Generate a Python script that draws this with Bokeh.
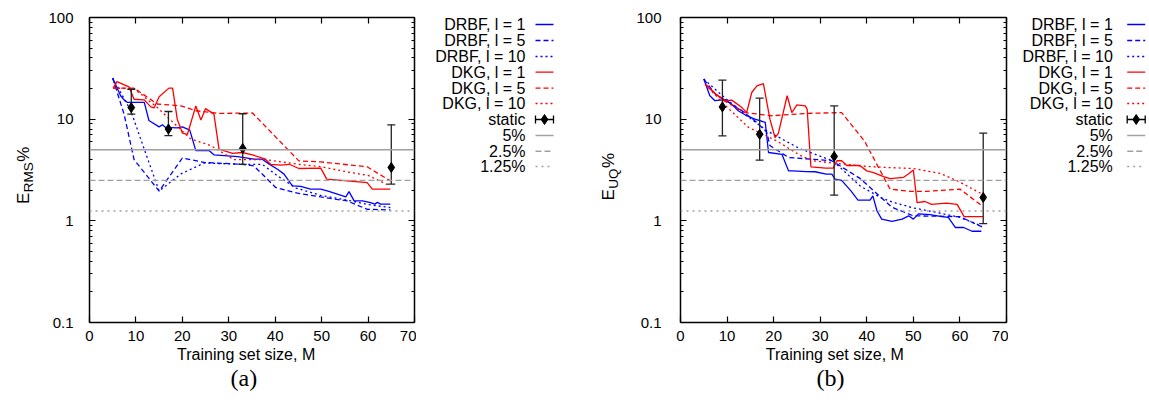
import math
from bokeh.plotting import figure
from bokeh.layouts import row
from bokeh.models import (Range1d, FixedTicker, LinearAxis, LogAxis, Span, Title,
                          CustomJSTickFormatter)
from bokeh.core.properties import value
from bokeh.embed import file_html
from bokeh.resources import INLINE

# ---------------- data ----------------
X_TICKS = [0, 10, 20, 30, 40, 50, 60, 70]
Y_TICKS = [0.1, 1, 10, 100]
Y_MINOR = [m * d for d in (0.1, 1, 10) for m in range(2, 10)]
THRESHOLDS = [5, 2.5, 1.25]
THRESHOLD_LABELS = ["5%", "2.5%", "1.25%"]
SERIES_LABELS = ["DRBF, l = 1", "DRBF, l = 5", "DRBF, l = 10",
                 "DKG, l = 1", "DKG, l = 5", "DKG, l = 10"]

# panel (a): E_RMS %
A_DRBF1_M = [5, 6.7, 7.5, 8.2, 11.8, 12.8, 15.0, 15.7, 16.4, 18.9, 20.0, 21.6, 22.9, 25.8, 26.8,
             31.9, 35.4, 37.2, 38.7, 40.5, 41.9, 43.7, 45.5, 47.6, 49.8, 51.2, 53.4, 55.2, 55.9,
             57.0, 58.8, 60.5, 61.5, 62.0, 62.7, 64.8]
A_DRBF1_E = [25.3, 17.0, 15.4, 14.6, 14.6, 9.7, 8.4, 8.8, 8.3, 8.2, 8.4, 7.8, 4.9, 4.9, 4.46,
             4.29, 4.04, 4.04, 3.61, 3.22, 2.88, 2.21, 2.18, 2.05, 2.05, 1.97, 1.83, 1.72, 1.94,
             1.57, 1.57, 1.51, 1.46, 1.52, 1.46, 1.46]
A_DRBF5_M = [5, 7.45, 9.6, 15.0, 20.0, 24.7, 32.9, 35.4, 40.1, 44.8, 49.8, 55.5, 59.8, 64.8]
A_DRBF5_E = [25.3, 11.2, 4.0, 1.96, 4.15, 3.75, 3.6, 3.47, 2.13, 1.87, 1.72, 1.57, 1.30, 1.28]
A_DRBF10_M = [5, 8.9, 11.4, 15.0, 19.7, 24.7, 32.9, 37.2, 40.5, 44.5, 49.8, 55.5, 59.8, 64.8]
A_DRBF10_E = [25.3, 12.1, 5.7, 1.96, 2.9, 3.7, 3.6, 3.6, 2.77, 2.1, 1.78, 1.6, 1.45, 1.35]
A_DKG1_M = [5.1, 5.9, 8.5, 9.6, 11.8, 13.2, 13.9, 15.0, 17.1, 17.9, 18.9, 20.0, 21.1, 22.9, 24.0,
            25.0, 26.8, 27.9, 30.8, 32.9, 35.1, 37.9, 39.0, 41.2, 43.0, 45.1, 49.8, 51.1, 55.5,
            59.8, 60.9, 64.8]
A_DKG1_E = [20.2, 23.4, 20.8, 15.7, 15.5, 13.2, 12.9, 16.6, 20.2, 20.2, 10.0, 7.3, 7.1, 13.5, 9.8,
            12.7, 11.2, 5.07, 4.6, 4.7, 4.46, 4.04, 3.6, 3.53, 3.6, 3.27, 3.3, 2.57, 2.47,
            2.38, 2.05, 2.05]
A_DKG5_M = [5.1, 9.6, 14.6, 19.7, 22.9, 27.9, 35.1, 45.1, 49.8, 59.8, 64.8]
A_DKG5_E = [20.2, 20.2, 14.1, 13.5, 12.1, 11.4, 11.5, 3.89, 3.8, 3.4, 2.47]
A_DKG10_M = [5.1, 9.6, 14.6, 21.8, 26.1, 31.1, 37.9, 45.0, 50.0, 56.0, 60.0, 64.8]
A_DKG10_E = [20.2, 20.0, 13.0, 6.4, 5.5, 4.0, 4.0, 3.6, 3.4, 3.0, 2.8, 2.2]
A_STATIC_M = [9, 17, 33, 65]
A_STATIC_E = [13.0, 8.0, 5.15, 3.35]
A_STATIC_LO = [11.2, 6.9, 3.6, 2.3]
A_STATIC_HI = [19.7, 11.9, 11.3, 8.8]

# panel (b): E_UQ %
B_DRBF1_M = [5, 6.3, 7.4, 9.6, 11.3, 12.4, 14.2, 16.0, 18.2, 18.9, 21.8, 23.2, 24.1, 27.0, 28.9,
             31.3, 32.5, 33.2, 34.6, 36.6, 38.1, 40.7, 41.3, 42.2, 43.2, 45.4, 47.6, 49.0, 50.0,
             51.1, 53.6, 56.1, 57.5, 59.0, 60.8, 62.6, 64.6]
B_DRBF1_E = [24.8, 17.0, 15.2, 15.6, 13.6, 12.1, 10.8, 10.0, 9.3, 4.7, 4.5, 3.1, 3.1, 3.05, 3.04,
             2.88, 2.88, 2.57, 2.5, 1.97, 1.6, 1.6, 1.76, 1.25, 1.04, 0.99, 1.04, 1.12, 1.04,
             1.17, 1.15, 1.1, 1.08, 0.86, 0.86, 0.79, 0.79]
B_DRBF5_M = [5, 7.5, 10, 13, 16, 18.5, 19.2, 23.2, 32.5, 38.6, 45.4, 50.0, 60.0, 65.0]
B_DRBF5_E = [24.8, 17.5, 15.0, 12.3, 9.6, 7.5, 5.5, 4.2, 3.9, 2.6, 1.36, 1.12, 1.10, 0.86]
B_DRBF10_M = [5, 9, 13, 18.5, 25.7, 32.7, 38.6, 42.9, 45.7, 50.0, 55.0, 60.0, 64.7]
B_DRBF10_E = [24.8, 17.0, 12.0, 7.7, 5.1, 3.9, 2.2, 1.70, 1.52, 1.34, 1.21, 1.08, 0.89]
B_DKG1_M = [5.3, 7.0, 9.6, 11.0, 13.2, 14.2, 15.3, 16.4, 17.8, 19.2, 20.3, 21.0, 22.9, 23.9, 25.0,
            26.8, 27.2, 28.0, 31.2, 32.8, 33.6, 34.6, 35.7, 38.5, 40.0, 41.3, 43.6, 45.0, 47.9,
            49.0, 50.0, 50.8, 52.5, 53.9, 57.1, 59.4, 60.9, 65.0]
B_DKG1_E = [22.1, 18.5, 15.2, 15.4, 13.0, 11.6, 18.3, 21.3, 22.4, 10.0, 6.6, 7.2, 17.0, 11.6, 13.8,
            13.5, 12.5, 3.4, 3.3, 3.3, 3.9, 3.9, 3.5, 3.5, 3.1, 3.0, 2.72, 2.6, 2.68,
            2.9, 3.16, 1.51, 1.55, 1.45, 1.49, 1.45, 1.1, 1.1]
B_DKG5_M = [5.3, 9.0, 13.9, 19.6, 27.1, 34.6, 39.5, 45.0, 49.3, 52.9, 60.0, 64.7]
B_DKG5_E = [22.1, 15.5, 11.6, 10.8, 11.4, 11.6, 6.1, 2.05, 1.95, 1.95, 2.05, 1.41]
B_DKG10_M = [5.3, 9.0, 14.6, 20.7, 25.7, 28.4, 32.8, 38.6, 44.0, 50.0, 55.8, 59.4, 64.7]
B_DKG10_E = [22.1, 14.5, 8.3, 6.1, 4.4, 3.9, 3.7, 3.47, 3.35, 3.27, 2.92, 2.48, 1.84]
B_STATIC_M = [9, 17, 33, 65]
B_STATIC_E = [13.2, 7.1, 4.3, 1.70]
B_STATIC_LO = [6.86, 3.95, 1.79, 0.94]
B_STATIC_HI = [24.2, 16.1, 13.5, 7.3]

# ---------------- style ----------------
H = 410
TOP = 17          # frame top (px)
FRAME_H = 305     # frame height (px)
BOTTOM = H - TOP - FRAME_H
FONT = "Liberation Sans"
BLUE = "#0000ff"
RED = "#ff0000"
GRAY = "#a0a0a0"
BAR = "#222222"
SERIES_STYLE = [(BLUE, "solid"), (BLUE, "5 3"), (BLUE, "2 3"),
                (RED, "solid"), (RED, "5 3"), (RED, "2 3")]
THRESH_DASH = ["solid", "6 3", "2 4"]
LEGEND_ROWS = [24, 40, 56, 71.7, 87.7, 103, 119, 135, 150.7, 166]


def style_axis(ax, show_labels, minor, standoff):
    ax.axis_line_color = "black"
    ax.axis_line_width = 1.5
    ax.major_tick_in = 6
    ax.major_tick_out = 0
    ax.major_tick_line_color = "black"
    ax.major_tick_line_width = 1.2
    ax.minor_tick_out = 0
    if minor:
        ax.minor_tick_in = 3
        ax.minor_tick_line_color = "black"
        ax.minor_tick_line_width = 1.0
    else:
        ax.minor_tick_line_color = None
    ax.major_label_text_font = FONT
    ax.major_label_text_font_size = "15px"
    ax.major_label_text_color = "black"
    ax.major_label_standoff = standoff
    if not show_labels:
        ax.formatter = CustomJSTickFormatter(code="return ''")
        ax.major_label_text_font_size = "0px"
        ax.major_label_standoff = 0


def make_panel(series, static, width, left, right, y_standoff, xlab_off, cap, cap_off):
    p = figure(width=width, height=H, x_range=Range1d(0, 70), y_range=Range1d(0.1, 100),
               y_axis_type="log", output_backend="svg", toolbar_location=None,
               min_border_left=left, min_border_right=right, min_border_top=TOP,
               min_border_bottom=BOTTOM)
    p.grid.visible = False
    p.outline_line_color = None
    p.background_fill_color = "white"
    p.border_fill_color = "white"

    xt = FixedTicker(ticks=X_TICKS)
    yt = FixedTicker(ticks=Y_TICKS, minor_ticks=Y_MINOR)
    yfmt = CustomJSTickFormatter(code="return tick < 1 ? tick.toFixed(1) : tick.toFixed(0)")

    xa = p.xaxis[0]
    xa.ticker = xt
    style_axis(xa, True, False, 8)
    ya = p.yaxis[0]
    ya.ticker = yt
    ya.formatter = yfmt
    style_axis(ya, True, True, y_standoff)

    top = LinearAxis(ticker=FixedTicker(ticks=X_TICKS))
    style_axis(top, False, False, 0)
    p.add_layout(top, "above")
    rgt = LogAxis(ticker=FixedTicker(ticks=Y_TICKS, minor_ticks=Y_MINOR))
    style_axis(rgt, False, True, 0)
    p.add_layout(rgt, "right")

    for (ms, es), (col, dash) in zip(series, SERIES_STYLE):
        p.line(ms, es, line_color=col, line_dash=dash, line_width=1.3)

    sm, se, slo, shi = static
    p.segment(x0=sm, y0=slo, x1=sm, y1=shi, line_color=BAR, line_width=1.3)
    p.scatter(sm, slo, marker="dash", size=8, line_color=BAR, line_width=1.3)
    p.scatter(sm, shi, marker="dash", size=8, line_color=BAR, line_width=1.3)
    p.scatter(sm, se, marker="diamond", size=10, fill_color="black", line_color="black")

    for th, dash in zip(THRESHOLDS, THRESH_DASH):
        p.add_layout(Span(location=th, dimension="width", line_color=GRAY,
                          line_dash=dash, line_width=1.4))

    t1 = Title(text="Training set size, M", align="left", offset=xlab_off,
               text_font=FONT, text_font_size="16px", text_font_style="normal",
               text_color="black", standoff=0)
    p.add_layout(t1, "below")
    t2 = Title(text=cap, align="left", offset=cap_off,
               text_font="Liberation Serif", text_font_size="24px",
               text_font_style="normal", text_color="black", standoff=0)
    p.add_layout(t2, "below")
    return p


def blank_fig(width):
    # the row aligns frames, so give the blank figures the same frame band;
    # data coordinates are pixel positions (y measured upward from the bottom)
    f = figure(width=width, height=H, x_range=Range1d(0, width),
               y_range=Range1d(BOTTOM, H - TOP),
               output_backend="svg", toolbar_location=None, x_axis_location=None,
               y_axis_location=None, min_border_left=0, min_border_right=0,
               min_border_top=TOP, min_border_bottom=BOTTOM)
    f.grid.visible = False
    f.outline_line_color = None
    f.background_fill_color = "white"
    f.border_fill_color = "white"
    return f


def add_ylabel(f, x_base, x_sub, y0, main, sub):
    # rotated label: main letter, subscript, percent sign (reads bottom to top)
    w_main = 0.667 * 17
    w_sub = sum({"R": .722, "M": .833, "S": .667, "U": .722, "Q": .778}[c] for c in sub) * 13.5
    f.text(x=[x_base], y=[H - y0], text=[main], angle=math.pi / 2, text_align="left",
           text_baseline="alphabetic", text_font=value(FONT), text_font_size="17px",
           text_color="black")
    f.text(x=[x_sub], y=[H - (y0 - w_main - 0.5)], text=[sub], angle=math.pi / 2,
           text_align="left", text_baseline="alphabetic", text_font=value(FONT),
           text_font_size="13.5px", text_color="black")
    f.text(x=[x_base], y=[H - (y0 - w_main - w_sub - 1)], text=["%"], angle=math.pi / 2,
           text_align="left", text_baseline="alphabetic", text_font=value(FONT),
           text_font_size="17px", text_color="black")


def add_legend(f, x_text, x_s0, slen):
    labels = SERIES_LABELS + ["static"] + THRESHOLD_LABELS
    f.text(x=[x_text] * len(labels), y=[H - y for y in LEGEND_ROWS], text=labels,
           text_align="right", text_baseline="middle", text_font=value(FONT),
           text_font_size="16px", text_color="black")
    for i, (col, dash) in enumerate(SERIES_STYLE):
        yy = H - LEGEND_ROWS[i]
        f.line([x_s0, x_s0 + slen], [yy, yy], line_color=col, line_dash=dash, line_width=1.3)
    yy = H - LEGEND_ROWS[6]
    f.line([x_s0, x_s0 + slen], [yy, yy], line_color="black", line_width=1.3)
    f.segment(x0=[x_s0, x_s0 + slen], y0=[yy - 4, yy - 4], x1=[x_s0, x_s0 + slen],
              y1=[yy + 4, yy + 4], line_color="black", line_width=1.3)
    f.scatter([x_s0 + slen / 2], [yy], marker="diamond", size=10, fill_color="black",
              line_color="black")
    for j, dash in enumerate(THRESH_DASH):
        yy = H - LEGEND_ROWS[7 + j]
        f.line([x_s0, x_s0 + slen], [yy, yy], line_color=GRAY, line_dash=dash, line_width=1.4)


series_a = [(A_DRBF1_M, A_DRBF1_E), (A_DRBF5_M, A_DRBF5_E), (A_DRBF10_M, A_DRBF10_E),
            (A_DKG1_M, A_DKG1_E), (A_DKG5_M, A_DKG5_E), (A_DKG10_M, A_DKG10_E)]
series_b = [(B_DRBF1_M, B_DRBF1_E), (B_DRBF5_M, B_DRBF5_E), (B_DRBF10_M, B_DRBF10_E),
            (B_DKG1_M, B_DKG1_E), (B_DKG5_M, B_DKG5_E), (B_DKG10_M, B_DKG10_E)]

ylab_a = blank_fig(35)
add_ylabel(ylab_a, 22.7, 28, 203.5, "E", "RMS")

fig_a = make_panel(series_a, (A_STATIC_M, A_STATIC_E, A_STATIC_LO, A_STATIC_HI),
                   381, 54, 2, 16, 87.6, "(a)", 141)

mid = blank_fig(214)
add_legend(mid, 109, 119, 18)
add_ylabel(mid, 192, 197, 200, "E", "UQ")

fig_b = make_panel(series_b, (B_STATIC_M, B_STATIC_E, B_STATIC_LO, B_STATIC_HI),
                   378, 50, 2, 19, 85.3, "(b)", 136)

leg_b = blank_fig(141)
add_legend(leg_b, 104.3, 118.7, 18)

layout = row(ylab_a, fig_a, mid, fig_b, leg_b, spacing=0)

open("out.html", "w").write(file_html(layout, INLINE))
